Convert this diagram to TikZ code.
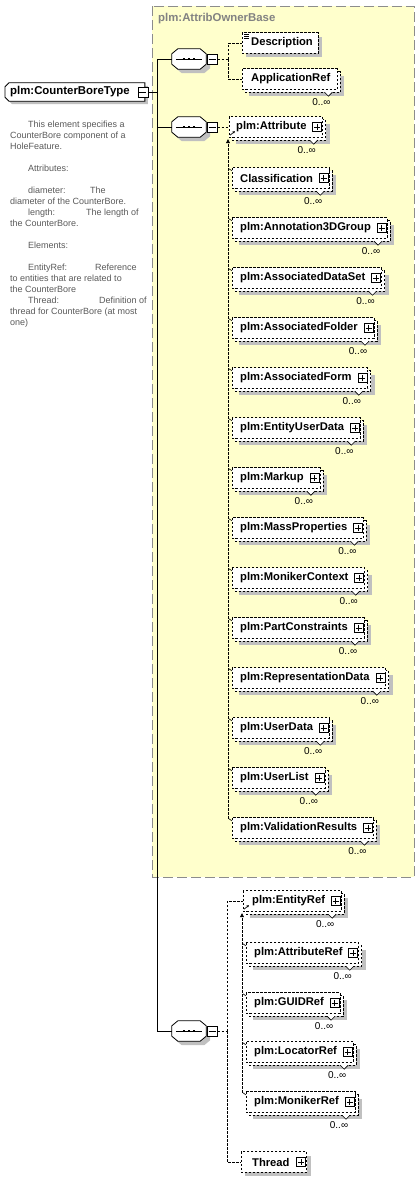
\documentclass[tikz,border=0pt]{standalone}
\usepackage{fontspec}
\setmainfont{Liberation Sans}
\usetikzlibrary{arrows.meta}
\pgfdeclarelayer{ybg}\pgfdeclarelayer{shad}\pgfdeclarelayer{backbox}\pgfdeclarelayer{frontbox}
\pgfsetlayers{ybg,shad,backbox,frontbox,main}
\definecolor{ylw}{RGB}{255,255,204}
\definecolor{shd}{RGB}{192,192,192}
\definecolor{brd}{RGB}{140,140,140}
\definecolor{doctext}{RGB}{90,90,90}
\definecolor{ttl}{RGB}{130,130,130}
\tikzset{
  dsh/.style={dash pattern=on 2.5pt off 1.5pt},
  elem/.style={anchor=west, minimum height=20pt, inner xsep=0pt, inner ysep=0pt, font=\fontsize{11.2}{13}\selectfont\bfseries},
  rootn/.style={anchor=west, minimum height=18pt, inner xsep=0pt, inner ysep=0pt, font=\fontsize{11.4}{13}\selectfont\bfseries},
  boxline/.style={draw=black, line width=.7pt, dsh, fill=white},
  solidbox/.style={draw=black, line width=.8pt, fill=white},
  pbox/.style={draw, fill=white, line width=.6pt, minimum size=9pt, inner sep=0pt,
    path picture={\draw[line width=.6pt] ([xshift=1.5pt]path picture bounding box.west) -- ([xshift=-1.5pt]path picture bounding box.east) ([yshift=1.5pt]path picture bounding box.south) -- ([yshift=-1.5pt]path picture bounding box.north);}},
  mbox/.style={draw, fill=white, line width=.6pt, minimum size=10pt, inner sep=0pt,
    path picture={\draw[line width=.6pt] ([xshift=1.5pt]path picture bounding box.west) -- ([xshift=-1.5pt]path picture bounding box.east);}},
  seqn/.style={minimum width=34pt, minimum height=20pt, inner sep=0pt},
  occ/.style={font=\fontsize{10}{11}\selectfont, inner sep=0pt},
  conn/.style={line width=.7pt, dsh},
  bus/.style={line width=.9pt},
  doc/.style={align=left, font=\fontsize{9}{11}\selectfont, text=doctext, inner sep=0pt, anchor=north west},
  subarrow/.style={line width=.7pt, -{Stealth[length=2.5pt,width=2.5pt]}},
  uparrow/.style={conn, -{Triangle[length=4pt,width=4pt]}},
}
\newcommand{\singlebox}[1]{%
 \begin{pgfonlayer}{shad}\fill[shd] ([shift={(4,4)}]#1.north west) rectangle ([shift={(4,4)}]#1.south east);\end{pgfonlayer}
 \begin{pgfonlayer}{frontbox}\draw[boxline] (#1.north west) rectangle (#1.south east);\end{pgfonlayer}}
\newcommand{\multibox}[1]{%
 \begin{pgfonlayer}{shad}\fill[shd] ([shift={(7,7)}]#1.north west) rectangle ([shift={(7,7)}]#1.south east);\end{pgfonlayer}
 \begin{pgfonlayer}{backbox}\draw[boxline] ([shift={(3,3)}]#1.north west) rectangle ([shift={(3,3)}]#1.south east);
   \fill[white] ([shift={(-13,2.4)}]#1.south east) -- ([shift={(-9,7)}]#1.south east) -- ([shift={(-5,2.4)}]#1.south east) -- cycle;
   \draw[line width=.6pt] ([shift={(-13,3)}]#1.south east) -- ([shift={(-9,7)}]#1.south east) -- ([shift={(-5,3)}]#1.south east);\end{pgfonlayer}
 \begin{pgfonlayer}{frontbox}\draw[boxline] (#1.north west) rectangle (#1.south east);\end{pgfonlayer}
 \node[occ] (#1o) at ([shift={(-16,13)}]#1.south east) {0..∞};}
\newcommand{\plusbox}[1]{\node[pbox] (#1p) at ([xshift=-5.5pt]#1.east) {};}
\newcommand{\tick}[1]{\draw[line width=.6pt] ([shift={(-3,1)}]#1.north west) -- ([shift={(0,3)}]#1.north west);}
\newcommand{\member}[4]{\node[elem] (#1) at (#2,#3) {\hspace*{8pt}#4\hspace*{16pt}};\multibox{#1}\plusbox{#1}\tick{#1}}
\newcommand{\octo}[3]{([shift={(#2+6,#3)}]#1.north west) -- ([shift={(#2-6,#3)}]#1.north east) -- ([shift={(#2,#3+5)}]#1.north east) -- ([shift={(#2,#3-5)}]#1.south east) -- ([shift={(#2-6,#3)}]#1.south east) -- ([shift={(#2+6,#3)}]#1.south west) -- ([shift={(#2,#3-5)}]#1.south west) -- ([shift={(#2,#3+5)}]#1.north west) -- cycle}
\newcommand{\seqdeco}[1]{%
 \begin{pgfonlayer}{shad}\fill[shd] \octo{#1}{4}{4};\end{pgfonlayer}
 \begin{pgfonlayer}{frontbox}\draw[solidbox] \octo{#1}{0}{0};\end{pgfonlayer}
 \draw[line width=.8pt] ([shift={(4,0)}]#1.west) -- ([shift={(-4,0)}]#1.east);
 \foreach \d in {-5,0,5} \fill ([shift={(\d-1.4,-1.4)}]#1.center) rectangle ++(2.8,2.8);
 \node[mbox] (#1m) at ([shift={(6,0)}]#1.east) {};}
\begin{document}
\begin{tikzpicture}[x=1pt,y=-1pt]
\useasboundingbox (0,0) rectangle (420,1178);
\begin{pgfonlayer}{ybg}
 \fill[white] (0,0) rectangle (420,1178);
 \filldraw[fill=ylw, draw=brd, line width=1pt, dash pattern=on 10pt off 4pt] (152,6) rectangle (414,877);
\end{pgfonlayer}
\node[anchor=west, inner sep=0pt, text=ttl, font=\fontsize{11.4}{13}\selectfont\bfseries] (title) at (158,19) {plm:AttribOwnerBase};

% root
\node[rootn] (root) at (5,92) {\hspace*{5pt}plm:CounterBoreType\hspace*{15pt}};
\begin{pgfonlayer}{shad}\fill[shd] ([shift={(3+4,3)}]root.north west) -- ([shift={(3,3)}]root.north east) -- ([shift={(3,3)}]root.south east) -- ([shift={(3+4,3)}]root.south west) -- ([shift={(3,3-4)}]root.south west) -- ([shift={(3,3+4)}]root.north west) -- cycle;\end{pgfonlayer}
\begin{pgfonlayer}{frontbox}\draw[solidbox] ([shift={(4,0)}]root.north west) -- (root.north east) -- (root.south east) -- ([shift={(4,0)}]root.south west) -- ([shift={(0,-4)}]root.south west) -- ([shift={(0,4)}]root.north west) -- cycle;\end{pgfonlayer}
\node[mbox] (rootm) at ([xshift=-2pt]root.east) {};

% documentation
\node[doc] (docu) at (10,121) {%
\hspace*{18pt}This element specifies a\\
CounterBore component of a\\
HoleFeature.\\
\mbox{}\\
\hspace*{18pt}Attributes:\\
\mbox{}\\
\hspace*{18pt}\makebox[62pt][l]{diameter:}The\\
diameter of the CounterBore.\\
\hspace*{18pt}\makebox[58pt][l]{length:}The length of\\
the CounterBore.\\
\mbox{}\\
\hspace*{18pt}Elements:\\
\mbox{}\\
\hspace*{18pt}\makebox[67pt][l]{EntityRef:}Reference\\
to entities that are related to\\
the CounterBore\\
\hspace*{18pt}\makebox[71pt][l]{Thread:}Definition of\\
thread for CounterBore (at most\\
one)};

% sequences
\node[seqn] (s1) at (189,59) {}; \seqdeco{s1}
\node[seqn] (s2) at (189,127) {}; \seqdeco{s2}
\node[seqn] (s3) at (189,1031) {}; \seqdeco{s3}

\coordinate (busroot) at (157,92);
\draw[bus] (rootm.east) -- (busroot);
\draw[bus] (s1.west) -| (busroot);
\draw[bus] (busroot) |- (s3.west);
\draw[bus] (s2.west) -- (s2.west -| busroot);

% group 1
\node[elem] (desc) at (242,43) {\hspace*{9pt}Description\hspace*{5pt}}; \singlebox{desc}
\draw[line width=.5pt] ([shift={(2,1.5)}]desc.north west) -- ++(5,0) ([shift={(2,3.5)}]desc.north west) -- ++(5,0) ([shift={(2,5.5)}]desc.north west) -- ++(5,0);
\node[elem] (appref) at (242,79) {\hspace*{9pt}ApplicationRef\hspace*{7pt}}; \multibox{appref}
\coordinate (j1) at (228,59);
\draw[conn] (s1m.east) -- (j1);
\draw[conn] (j1) |- (desc.west);
\draw[conn] (j1) |- (appref.west);

% group 2
\node[elem] (attr) at (229,127) {\hspace*{7pt}plm:Attribute\hspace*{16pt}}; \multibox{attr}\plusbox{attr}
\draw[subarrow] ([shift={(1,-2)}]attr.south west) -- ([shift={(6,-6)}]attr.south west);
\draw[conn] (s2m.east) -- (attr.west);
\member{cls}{232}{178}{Classification}
\member{ann}{232}{228}{plm:Annotation3DGroup}
\member{ads}{232}{278}{plm:AssociatedDataSet}
\member{afo}{232}{328}{plm:AssociatedFolder}
\member{afm}{232}{378}{plm:AssociatedForm}
\member{eud}{232}{428}{plm:EntityUserData}
\member{mku}{232}{478}{plm:Markup}
\member{mpr}{232}{528}{plm:MassProperties}
\member{mct}{232}{578}{plm:MonikerContext}
\member{pcs}{232}{628}{plm:PartConstraints}
\member{rpd}{232}{678}{plm:RepresentationData}
\member{usd}{232}{728}{plm:UserData}
\member{usl}{232}{778}{plm:UserList}
\member{val}{232}{828}{plm:ValidationResults}
\draw[uparrow] ([shift={(-4,1)}]val.north west) -- ([shift={(-1,2)}]attr.south west);

% group 3
\node[elem] (eref) at (243,901) {\hspace*{9pt}plm:EntityRef\hspace*{16pt}}; \multibox{eref}\plusbox{eref}
\draw[subarrow] ([shift={(1,-2)}]eref.south west) -- ([shift={(6,-6)}]eref.south west);
\member{aref}{246}{953}{plm:AttributeRef}
\member{gref}{246}{1003}{plm:GUIDRef}
\member{lref}{246}{1052}{plm:LocatorRef}
\member{mref}{246}{1102}{plm:MonikerRef}
\node[elem] (thread) at (241,1162) {\hspace*{11pt}Thread\hspace*{17pt}}; \singlebox{thread}\plusbox{thread}
\coordinate (j3) at (227,1031);
\draw[conn] (s3m.east) -- (j3);
\draw[conn] (j3) |- (eref.west);
\draw[conn] (j3) |- (thread.west);
\draw[uparrow] ([shift={(-4,1)}]mref.north west) -- ([shift={(-1,2)}]eref.south west);
\end{tikzpicture}
\end{document}
